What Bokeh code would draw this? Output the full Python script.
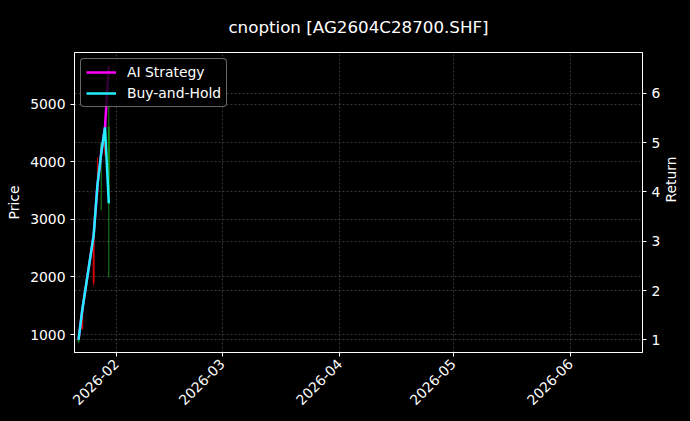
import math
import pandas as pd
from bokeh.plotting import figure
from bokeh.models import (Range1d, LinearAxis, DatetimeTickFormatter, FixedTicker,
                          SingleIntervalTicker, Grid, Legend, LegendItem, ColumnDataSource)
from bokeh.embed import file_html
from bokeh.resources import INLINE

# ---------------- data ----------------
dates = ["2026-01-22", "2026-01-23", "2026-01-26", "2026-01-27",
         "2026-01-28", "2026-01-29", "2026-01-30"]
opens = [900, 1100, 1900, 3420, 4320, 4160, 4610]
highs = [930, 1420, 2800, 4078, 4330, 4650, 5000]
lows = [860, 1080, 1852, 3400, 3160, 4100, 1990]
closes = [868, 1400, 2710, 3595, 4160, 4610, 3275]
ai_strategy = [1.00, 1.61, 3.12, 4.14, 4.79, 5.31, 6.55]
buy_and_hold = [1.00, 1.61, 3.12, 4.14, 4.79, 5.31, 3.77]
month_ticks = ["2026-02-01", "2026-03-01", "2026-04-01", "2026-05-01", "2026-06-01"]
title_text = "cnoption [AG2604C28700.SHF]"

FONT = "DejaVu Sans"
dt = pd.to_datetime(dates)
up = [c >= o for o, c in zip(opens, closes)]
colors = ["#d40000" if u else "#1a8c1a" for u in up]
src = ColumnDataSource(dict(
    date=dt, open=opens, high=highs, low=lows, close=closes,
    top=[max(o, c) for o, c in zip(opens, closes)],
    bottom=[min(o, c) for o, c in zip(opens, closes)],
    color=colors, ai=ai_strategy, bh=buy_and_hold))

p = figure(width=690, height=421, x_axis_type="datetime",
           output_backend="svg", toolbar_location=None,
           x_range=Range1d(pd.Timestamp("2026-01-20 22:30"), pd.Timestamp("2026-06-20 01:00")),
           y_range=Range1d(687, 5904),
           min_border_left=74, min_border_right=48, min_border_top=52, min_border_bottom=69)
p.extra_y_ranges = {"ret": Range1d(0.742, 6.83)}

p.background_fill_color = "black"
p.border_fill_color = "black"
p.outline_line_color = "white"
p.outline_line_width = 1

p.title.text = title_text
p.title.align = "center"
p.title.vertical_align = "top"
p.title.text_color = "white"
p.title.text_font = FONT
p.title.text_font_size = "16.7px"
p.title.text_font_style = "normal"
p.title.standoff = 28

# candles
p.segment(x0="date", y0="low", x1="date", y1="high", color="color", line_width=1, source=src)
p.vbar(x="date", width=0.35 * 86400000, top="top", bottom="bottom",
       fill_color="color", line_color="color", line_width=0.5, source=src)

# lines on return axis
r_ai = p.line("date", "ai", source=src, y_range_name="ret", color="#ff00ff", line_width=2.5)
r_bh = p.line("date", "bh", source=src, y_range_name="ret", color="#22eeff", line_width=2.5)

# axes styling
def style_axis(ax):
    ax.axis_line_color = "white"
    ax.major_tick_line_color = "white"
    ax.minor_tick_line_color = None
    ax.major_tick_out = 4
    ax.major_tick_in = 0
    ax.major_label_text_color = "white"
    ax.major_label_text_font = FONT
    ax.major_label_text_font_size = "13.9px"
    ax.axis_label_text_color = "white"
    ax.axis_label_text_font = FONT
    ax.axis_label_text_font_size = "13.9px"
    ax.axis_label_text_font_style = "normal"

xa = p.xaxis[0]
xa.ticker = FixedTicker(ticks=[pd.Timestamp(m).value / 1e6 for m in month_ticks])
xa.formatter = DatetimeTickFormatter(days="%Y-%m", months="%Y-%m", years="%Y-%m")
xa.major_label_orientation = math.pi / 4
style_axis(xa)

ya = p.yaxis[0]
ya.ticker = SingleIntervalTicker(interval=1000)
ya.axis_label = "Price"
style_axis(ya)

ra = LinearAxis(y_range_name="ret", axis_label="Return", ticker=SingleIntervalTicker(interval=1))
style_axis(ra)
ra.axis_label_orientation = math.pi / 2
ra.axis_label_standoff = 8
p.add_layout(ra, "right")

for g in p.grid:
    g.grid_line_color = "#5a5a5a"
    g.grid_line_dash = "2 2"
    g.grid_line_width = 0.6
rg = Grid(dimension=1, ticker=ra.ticker, y_range_name="ret",
          grid_line_color="#5a5a5a", grid_line_dash="2 2", grid_line_width=0.6)
p.add_layout(rg)

legend = Legend(items=[LegendItem(label="AI Strategy", renderers=[r_ai]),
                       LegendItem(label="Buy-and-Hold", renderers=[r_bh])],
                location="top_left")
legend.background_fill_color = "black"
legend.background_fill_alpha = 0.8
legend.border_line_color = "#cccccc"
legend.border_line_width = 1
legend.border_radius = 4
legend.label_text_color = "white"
legend.label_text_font = FONT
legend.label_text_font_size = "13.9px"
legend.glyph_width = 30
legend.glyph_height = 16
legend.label_height = 16
legend.spacing = 5
legend.padding = 5
legend.margin = 6
legend.label_standoff = 11
p.add_layout(legend)

template = """
{% block preamble %}
<style>html, body { background: #000000; }</style>
{% endblock %}
"""
open("out.html", "w").write(file_html(p, INLINE, title="plot", template=template))
